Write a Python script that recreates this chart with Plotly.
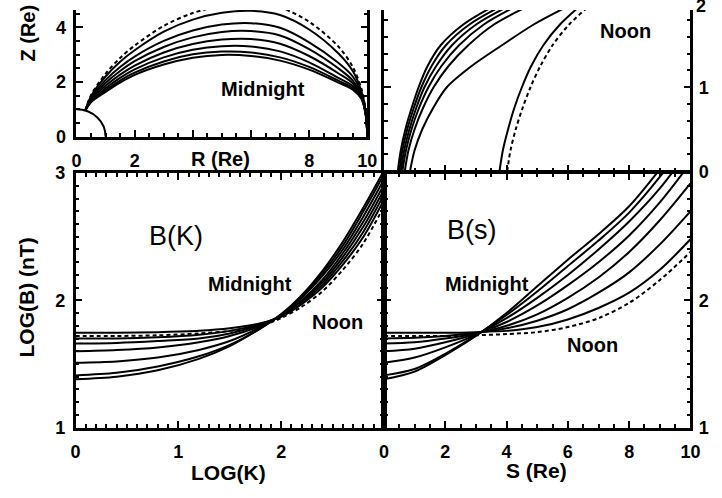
import plotly.graph_objects as go

W, H = 722, 498

# ---------------- data ----------------
CURVES = ["dashed", "c1", "c2", "c3", "c4", "c5", "c6", "c7"]

# Panel A: field lines at midnight, Z (Re) vs R (Re)
R_PTS = [0.3, 0.5, 1, 1.5, 2, 3, 4, 5, 6, 7, 8, 9, 9.5, 9.8, 9.95, 10]
Z_dashed = [0.95, 1.52, 2.30, 2.88, 3.33, 4.05, 4.52, 4.78, 4.85, 4.72, 4.20, 3.30, 2.55, 1.75, 0.90, 0]
Z_c1 = [0.95, 1.48, 2.20, 2.74, 3.16, 3.84, 4.28, 4.53, 4.60, 4.45, 3.92, 3.05, 2.40, 1.65, 0.88, 0]
Z_c2 = [0.95, 1.43, 2.07, 2.55, 2.93, 3.50, 3.88, 4.10, 4.15, 3.98, 3.45, 2.70, 2.20, 1.58, 0.85, 0]
Z_c3 = [0.95, 1.39, 1.96, 2.40, 2.76, 3.28, 3.63, 3.83, 3.86, 3.70, 3.20, 2.50, 2.05, 1.52, 0.83, 0]
Z_c4 = [0.95, 1.35, 1.86, 2.27, 2.60, 3.08, 3.39, 3.55, 3.57, 3.40, 2.95, 2.32, 1.95, 1.48, 0.80, 0]
Z_c5 = [0.95, 1.31, 1.77, 2.15, 2.46, 2.90, 3.18, 3.31, 3.30, 3.12, 2.72, 2.15, 1.85, 1.44, 0.78, 0]
Z_c6 = [0.95, 1.28, 1.70, 2.05, 2.34, 2.75, 3.01, 3.11, 3.08, 2.90, 2.55, 2.05, 1.78, 1.40, 0.77, 0]
Z_c7 = [0.95, 1.26, 1.64, 1.98, 2.26, 2.64, 2.89, 2.99, 2.95, 2.78, 2.45, 1.98, 1.72, 1.38, 0.76, 0]
EARTH_RADIUS = 1.0

# Panel B: upper right, value (0..2) vs S (Re); sampled along the vertical value
V_PTS = [0, 0.25, 0.5, 0.75, 1.0, 1.25, 1.5, 1.75, 2.0]
S_dashed = [4.02, 4.13, 4.30, 4.52, 4.78, 5.10, 5.50, 6.05, 6.80]
S_c1 = [3.77, 3.88, 4.05, 4.25, 4.50, 4.80, 5.20, 5.75, 6.50]
S_c2 = [0.85, 1.00, 1.25, 1.60, 2.05, 2.85, 3.85, 4.90, 6.20]
S_c3 = [0.68, 0.80, 1.00, 1.27, 1.62, 2.10, 2.75, 3.60, 4.90]
S_c4 = [0.60, 0.72, 0.90, 1.14, 1.45, 1.87, 2.45, 3.27, 4.50]
S_c5 = [0.55, 0.66, 0.83, 1.05, 1.32, 1.70, 2.22, 3.02, 4.25]
S_c6 = [0.50, 0.60, 0.76, 0.97, 1.22, 1.55, 2.02, 2.80, 4.00]
S_c7 = [0.45, 0.55, 0.70, 0.90, 1.13, 1.42, 1.85, 2.60, 3.75]

# Panel C: LOG(B) vs LOG(K)
LOGK_PTS = [0, 0.4, 0.8, 1.2, 1.5, 1.8, 2.0, 2.2, 2.4, 2.6, 2.8, 3.0]
BK_dashed = [1.72, 1.72, 1.725, 1.74, 1.76, 1.80, 1.86, 1.95, 2.07, 2.24, 2.45, 2.74]
BK_c1 = [1.745, 1.745, 1.75, 1.76, 1.78, 1.82, 1.87, 1.97, 2.10, 2.28, 2.50, 2.79]
BK_c2 = [1.70, 1.70, 1.71, 1.73, 1.76, 1.815, 1.875, 1.98, 2.12, 2.31, 2.54, 2.83]
BK_c3 = [1.66, 1.665, 1.68, 1.70, 1.74, 1.81, 1.88, 1.99, 2.14, 2.34, 2.58, 2.87]
BK_c4 = [1.60, 1.61, 1.63, 1.67, 1.72, 1.80, 1.88, 2.00, 2.16, 2.37, 2.62, 2.91]
BK_c5 = [1.51, 1.52, 1.55, 1.61, 1.68, 1.79, 1.885, 2.02, 2.19, 2.40, 2.66, 2.95]
BK_c6 = [1.41, 1.43, 1.48, 1.56, 1.65, 1.78, 1.89, 2.03, 2.21, 2.43, 2.70, 2.99]
BK_c7 = [1.38, 1.40, 1.45, 1.54, 1.64, 1.78, 1.89, 2.04, 2.23, 2.46, 2.73, 3.02]

# Panel D: LOG(B) vs S (Re)
S_PTS = [0, 1, 2, 3, 4, 5, 6, 7, 8, 9, 10]
BS_dashed = [1.72, 1.72, 1.72, 1.725, 1.735, 1.75, 1.79, 1.86, 1.98, 2.16, 2.38]
BS_c1 = [1.745, 1.745, 1.745, 1.75, 1.76, 1.79, 1.85, 1.94, 2.06, 2.24, 2.48]
BS_c2 = [1.70, 1.705, 1.72, 1.745, 1.78, 1.84, 1.93, 2.06, 2.22, 2.44, 2.70]
BS_c3 = [1.66, 1.67, 1.70, 1.74, 1.80, 1.89, 2.02, 2.18, 2.38, 2.63, 2.92]
BS_c4 = [1.60, 1.62, 1.67, 1.735, 1.83, 1.96, 2.12, 2.30, 2.51, 2.77, 3.08]
BS_c5 = [1.51, 1.55, 1.63, 1.73, 1.86, 2.02, 2.20, 2.40, 2.62, 2.88, 3.20]
BS_c6 = [1.41, 1.46, 1.58, 1.725, 1.885, 2.07, 2.27, 2.47, 2.69, 2.97, 3.30]
BS_c7 = [1.38, 1.44, 1.57, 1.72, 1.90, 2.11, 2.32, 2.52, 2.74, 3.03, 3.35]

# tick labels
TL_X_VALS = [0, 2, 4, 6, 8, 10]
TL_X_TEXT = ["0", "2", "", "", "8", "10"]
TL_Y_VALS = [0, 2, 4]
TR_Y_VALS = [0, 1, 2]
BL_X_VALS = [0, 1, 2, 3]
BL_X_TEXT = ["0", "1", "2", ""]
B_Y_VALS = [1, 2, 3]
BR_X_VALS = [0, 2, 4, 6, 8, 10]
BR_Y_TEXT = ["1", "2", ""]

# ---------------- figure ----------------
def px_x(p):
    return p / W

def px_y(p):
    return 1 - p / H

FONT = "Liberation Sans, Arial, sans-serif"
fig = go.Figure()

panelA = {"dashed": Z_dashed, "c1": Z_c1, "c2": Z_c2, "c3": Z_c3, "c4": Z_c4,
          "c5": Z_c5, "c6": Z_c6, "c7": Z_c7}
panelB = {"dashed": S_dashed, "c1": S_c1, "c2": S_c2, "c3": S_c3, "c4": S_c4,
          "c5": S_c5, "c6": S_c6, "c7": S_c7}
panelC = {"dashed": BK_dashed, "c1": BK_c1, "c2": BK_c2, "c3": BK_c3, "c4": BK_c4,
          "c5": BK_c5, "c6": BK_c6, "c7": BK_c7}
panelD = {"dashed": BS_dashed, "c1": BS_c1, "c2": BS_c2, "c3": BS_c3, "c4": BS_c4,
          "c5": BS_c5, "c6": BS_c6, "c7": BS_c7}

def style(name):
    return dict(color="black", width=2, shape="spline", smoothing=0.9,
                dash="4px,3px" if name == "dashed" else "solid")

for name in CURVES:
    fig.add_trace(go.Scatter(x=R_PTS, y=panelA[name], mode="lines", line=style(name),
                             xaxis="x", yaxis="y", showlegend=False, hoverinfo="skip"))
    fig.add_trace(go.Scatter(x=panelB[name], y=V_PTS, mode="lines", line=style(name),
                             xaxis="x2", yaxis="y2", showlegend=False, hoverinfo="skip"))
    fig.add_trace(go.Scatter(x=LOGK_PTS, y=panelC[name], mode="lines", line=style(name),
                             xaxis="x3", yaxis="y3", showlegend=False, hoverinfo="skip"))
    fig.add_trace(go.Scatter(x=S_PTS, y=panelD[name], mode="lines", line=style(name),
                             xaxis="x4", yaxis="y4", showlegend=False, hoverinfo="skip"))

tickfont = dict(family=FONT, size=18, color="black", weight="bold")

def axis(domain, rng, tickvals, ticktext=None, minor_dtick=None, side=None,
         mirror=True, showlabels=True, standoff=None):
    d = dict(domain=domain, range=rng, showgrid=False, zeroline=False,
             showline=True, linecolor="black", linewidth=2.5,
             ticks="inside", ticklen=7, tickwidth=2, tickcolor="black",
             tickmode="array", tickvals=tickvals,
             ticktext=ticktext if ticktext is not None else [str(v) for v in tickvals],
             tickfont=tickfont, showticklabels=showlabels, fixedrange=True)
    if mirror:
        d["mirror"] = "allticks"
    if side:
        d["side"] = side
    if minor_dtick:
        d["minor"] = dict(ticks="inside", ticklen=4, tickwidth=1.5, tickcolor="black",
                          tickmode="linear", tick0=0, dtick=minor_dtick)
    if standoff is not None:
        d["ticklabelstandoff"] = standoff
    return d

xa_dom_tl = [px_x(73), px_x(370)]
xa_dom_r = [px_x(387), px_x(700)]
xa_dom_bl = [px_x(72), px_x(387)]
ya_dom_tl = [px_y(132), 1.0]
ya_dom_tr = [px_y(168), 1.0]
ya_dom_b = [px_y(435), px_y(170)]

fig.update_layout(
    width=W, height=H, margin=dict(l=0, r=0, t=0, b=0),
    paper_bgcolor="white", plot_bgcolor="white",
    xaxis=dict(**axis(xa_dom_tl, [0, 10], TL_X_VALS, TL_X_TEXT, 0.5, mirror=False, standoff=6), anchor="y"),
    yaxis=dict(**axis(ya_dom_tl, [0, 132 / 28.5], TL_Y_VALS, None, 0.5, standoff=4), anchor="x"),
    xaxis2=dict(**axis(xa_dom_r, [0, 10], BR_X_VALS, None, 0.5, mirror=False, showlabels=False), anchor="y2"),
    yaxis2=dict(**axis(ya_dom_tr, [0, 167 / 87], TR_Y_VALS, None, 0.2, side="right", standoff=2), anchor="x2"),
    xaxis3=dict(**axis(xa_dom_bl, [0, 3], BL_X_VALS, BL_X_TEXT, 0.1, standoff=6), anchor="y3"),
    yaxis3=dict(**axis(ya_dom_b, [1, 3], B_Y_VALS, None, 0.1, standoff=4), anchor="x3"),
    xaxis4=dict(**axis(xa_dom_r, [0, 10], BR_X_VALS, None, 0.5, standoff=6), anchor="y4"),
    yaxis4=dict(**axis(ya_dom_b, [1, 3], B_Y_VALS, BR_Y_TEXT, 0.1, side="right", standoff=2), anchor="x4"),
)

fig.add_shape(type="circle", xref="x", yref="y", x0=-EARTH_RADIUS, x1=EARTH_RADIUS,
              y0=-EARTH_RADIUS, y1=EARTH_RADIUS, line=dict(color="black", width=2))

def note(text, cx, cy, size=20, weight="bold", angle=0):
    fig.add_annotation(text=text, xref="paper", yref="paper", x=px_x(cx), y=px_y(cy),
                       xanchor="center", yanchor="middle", showarrow=False, textangle=angle,
                       font=dict(family=FONT, size=size, color="black", weight=weight))

note("Midnight", 263, 82)
note("Noon", 634, 22)
note("B(K)", 175, 235, size=27, weight="normal")
note("B(s)", 477, 229, size=27, weight="normal")
note("Midnight", 250, 285)
note("Noon", 340, 325)
note("Midnight", 492, 285)
note("Noon", 600, 349)
note("R (Re)", 220, 155)
note("LOG(K)", 228, 482, size=21)
note("S (Re)", 543, 480, size=21)
note("LOG(B) (nT)", 22, 300, size=21, angle=-90)
note("Z (Re)", 24, 24, size=20, angle=-90)
note("2", 711, -4, size=18)

fig.write_html(
    "out.html",
    config={"displayModeBar": False},
    post_script="document.body.style.margin='0px';document.body.style.overflow='hidden';",
)
